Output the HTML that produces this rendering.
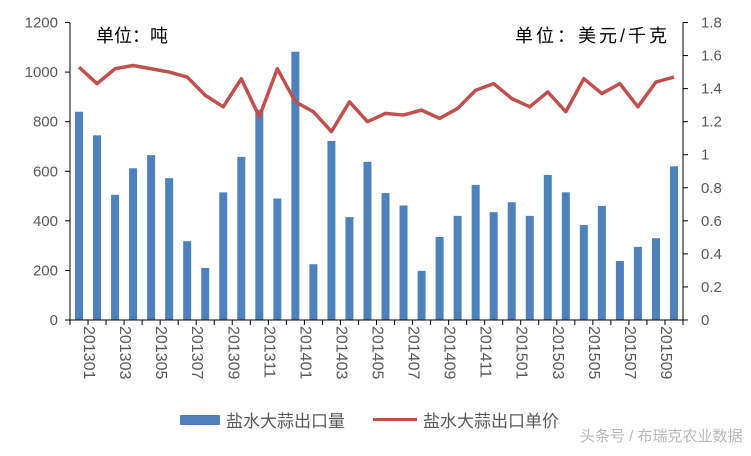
<!DOCTYPE html>
<html><head><meta charset="utf-8"><style>
body{margin:0;background:#fff}
svg text{font-family:"Liberation Sans","Noto Sans CJK SC",sans-serif}
</style></head><body>
<svg id="c" width="751" height="451" xmlns="http://www.w3.org/2000/svg"></svg>
<script>
const categories=["201301","201302","201303","201304","201305","201306","201307","201308","201309","201310","201311","201312","201401","201402","201403","201404","201405","201406","201407","201408","201409","201410","201411","201412","201501","201502","201503","201504","201505","201506","201507","201508","201509","201510"];
const volume=[840,745,505,612,665,572,318,210,515,658,848,490,1082,225,722,415,638,512,462,198,335,420,545,435,475,420,585,515,383,460,238,295,330,620];
const price=[1.53,1.43,1.52,1.54,1.52,1.50,1.47,1.36,1.29,1.46,1.23,1.52,1.32,1.26,1.14,1.32,1.20,1.25,1.24,1.27,1.22,1.28,1.39,1.43,1.34,1.29,1.38,1.26,1.46,1.37,1.43,1.29,1.44,1.47];
const leftTicks=[0,200,400,600,800,1000,1200];
const rightTicks=[0,0.2,0.4,0.6,0.8,1,1.2,1.4,1.6,1.8];
const svg=document.getElementById('c');const NS='http://www.w3.org/2000/svg';
function mk(t,a,p){const e=document.createElementNS(NS,t);for(const k in a)e.setAttribute(k,a[k]);(p||svg).appendChild(e);return e;}
const L=70,R=683,T=22.5,B=320;
const n=categories.length,bw=(R-L)/n;
const yL=v=>B-(v/1200)*(B-T);
const yR=v=>B-(v/1.8)*(B-T);
const xC=i=>L+bw*(i+0.5);
volume.forEach((v,i)=>{const r=mk('rect',{x:xC(i)-4,y:yL(v),width:8,height:B-yL(v),fill:'#4f81bd'});

});
const pts=price.map((v,i)=>xC(i)+','+yR(v)).join(' ');
const pl=mk('polyline',{points:pts,fill:'none',stroke:'#c0504d','stroke-width':3.5,'stroke-linejoin':'round'});


mk('line',{x1:L,y1:T,x2:L,y2:B,stroke:'#000','stroke-width':1});
mk('line',{x1:L,y1:B,x2:R,y2:B,stroke:'#000','stroke-width':1});
mk('line',{x1:R,y1:T,x2:R,y2:B,stroke:'#000','stroke-width':1});
leftTicks.forEach(v=>{mk('line',{x1:L-5,y1:yL(v),x2:L,y2:yL(v),stroke:'#000'});
const t=mk('text',{x:L-12,y:yL(v)+5,'text-anchor':'end','font-size':15,fill:'#595959'});t.textContent=v;

});
rightTicks.forEach(v=>{mk('line',{x1:R,y1:yR(v),x2:R+5,y2:yR(v),stroke:'#000'});
const t=mk('text',{x:R+18,y:yR(v)+5,'font-size':15,fill:'#595959'});t.textContent=String(v);

});
for(let i=0;i<=n;i++)mk('line',{x1:L+bw*i,y1:B,x2:L+bw*i,y2:B+5,stroke:'#000'});
categories.forEach((c,i)=>{if(i%2)return;const x=xC(i)+5,y=B+6;
const t=mk('text',{x:x,y:y,transform:`rotate(90 ${x} ${y})`,'font-size':16,fill:'#595959'});t.textContent=c;

});
</script>
<div style="position:absolute;left:96px;top:22px;font:18px 'Liberation Sans','Noto Sans CJK SC',sans-serif;color:#000">单位：吨</div>
<div style="position:absolute;left:515px;top:22px;font:18px 'Liberation Sans','Noto Sans CJK SC',sans-serif;color:#000;letter-spacing:3px">单位：美元/千克</div>
<div style="position:absolute;left:180px;top:407px;font:17px 'Liberation Sans','Noto Sans CJK SC',sans-serif;color:#595959;display:flex;align-items:center">
<span style="display:inline-block;width:40px;height:10px;background:#4f81bd;margin-right:6px"></span><span>盐水大蒜出口量</span>
<span style="display:inline-block;width:44px;height:3px;background:#c0504d;margin:0 6px 0 28px"></span><span>盐水大蒜出口单价</span></div>
<div style="position:absolute;left:580px;top:425px;font:15px 'Liberation Sans','Noto Sans CJK SC',sans-serif;color:#b8b8b8">头条号 / 布瑞克农业数据</div>
</body></html>
